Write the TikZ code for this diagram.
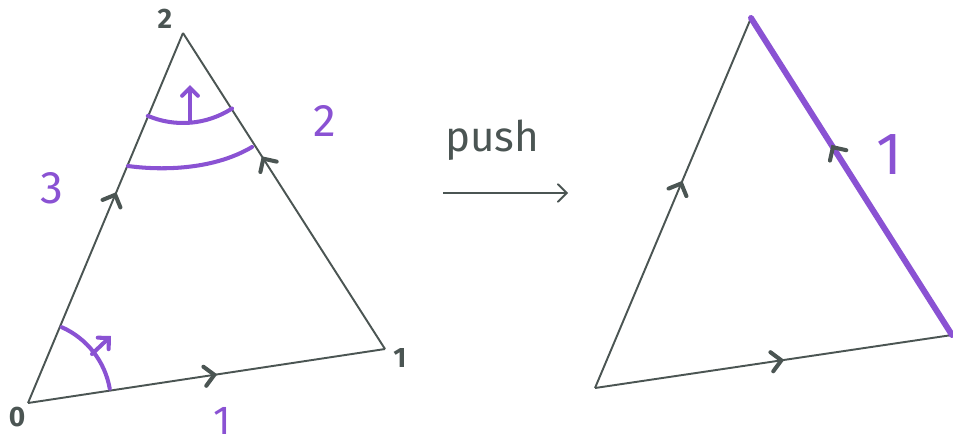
\documentclass[tikz,border=0pt]{standalone}
\usepackage{fontspec}
\setmainfont{Fira Sans}
\usetikzlibrary{arrows.meta,decorations.markings}
\definecolor{ink}{HTML}{4B5553}
\definecolor{lila}{HTML}{8A52D3}
\begin{document}
\begin{tikzpicture}[x=0.02cm, y=-0.02cm,
  edge/.style={ink, line width=1.1pt},
  midarrow/.style={postaction={decorate, decoration={markings,
      mark=at position #1 with {\arrow[ink, line width=2.3pt]{Straight Barb[length=5.5pt,width=11pt,line cap=round]}}}}},
  hot/.style={lila, line width=2.3pt, line cap=round},
  hotarrow/.style={hot, -{Straight Barb[length=4.5pt,width=9pt,line cap=round]}},
  vlab/.style={ink, font=\fontsize{16}{16}\selectfont\bfseries},
  plab/.style={lila, font=\fontsize{26}{26}\selectfont}]
  \useasboundingbox (0,0) rectangle (953,444);
  % left triangle
  \coordinate (a0) at (28,403);
  \coordinate (a1) at (385,349);
  \coordinate (a2) at (183,33);
  \draw[edge, midarrow=0.53] (a0) -- (a1);
  \draw[edge, midarrow=0.57] (a0) -- (a2);
  \draw[edge, midarrow=0.61] (a1) -- (a2);
  \node[vlab] (l0) at (17,417) {0};
  \node[vlab] (l1) at (400,358) {1};
  \node[vlab] (l2) at (165,19) {2};
  % angle at 0
  \draw[hot] (a0) ++(-66:83) arc[start angle=-66, end angle=-10, radius=83];
  \coordinate (fan0) at (92,354);
  \coordinate (fan1) at (111,336);
  \draw[hotarrow] (fan0) -- (fan1);
  % strips below 2
  \draw[hot] (a2) ++(113:90) arc[start angle=113, end angle=57, radius=90];
  \coordinate (up0) at (190,121);
  \coordinate (up1) at (190,85);
  \draw[hotarrow] (up0) -- (up1);
  \coordinate (cut0) at (128,166);
  \coordinate (cut1) at (252,147);
  \draw[hot] (cut0) .. controls (165,171) and (215,169) .. (cut1);
  \node[plab] (n3) at (52,188) {3};
  \node[plab] (n2) at (325,121) {2};
  \node[plab, inner sep=1pt, font=\fontsize{23}{23}\selectfont] (n1) at (222,421) {1};
  % push
  \coordinate (ps) at (443,193);
  \coordinate (pe) at (568,193);
  \draw[edge, -{Straight Barb[length=5pt,width=10pt,line cap=round]}] (ps) -- (pe);
  \node[ink, font=\fontsize{24}{24}\selectfont] (push) at (492,140) {push};
  % right triangle
  \coordinate (b0) at (595,388);
  \coordinate (b1) at (952,335);
  \coordinate (b2) at (751,18);
  \draw[edge, midarrow=0.53] (b0) -- (b1);
  \draw[edge, midarrow=0.56] (b0) -- (b2);
  \draw[hot, line width=3.4pt, midarrow=0.6] (b1) -- (b2);
  \node[plab, font=\fontsize{34}{34}\selectfont] (m1) at (889,155) {1};
\end{tikzpicture}
\end{document}
